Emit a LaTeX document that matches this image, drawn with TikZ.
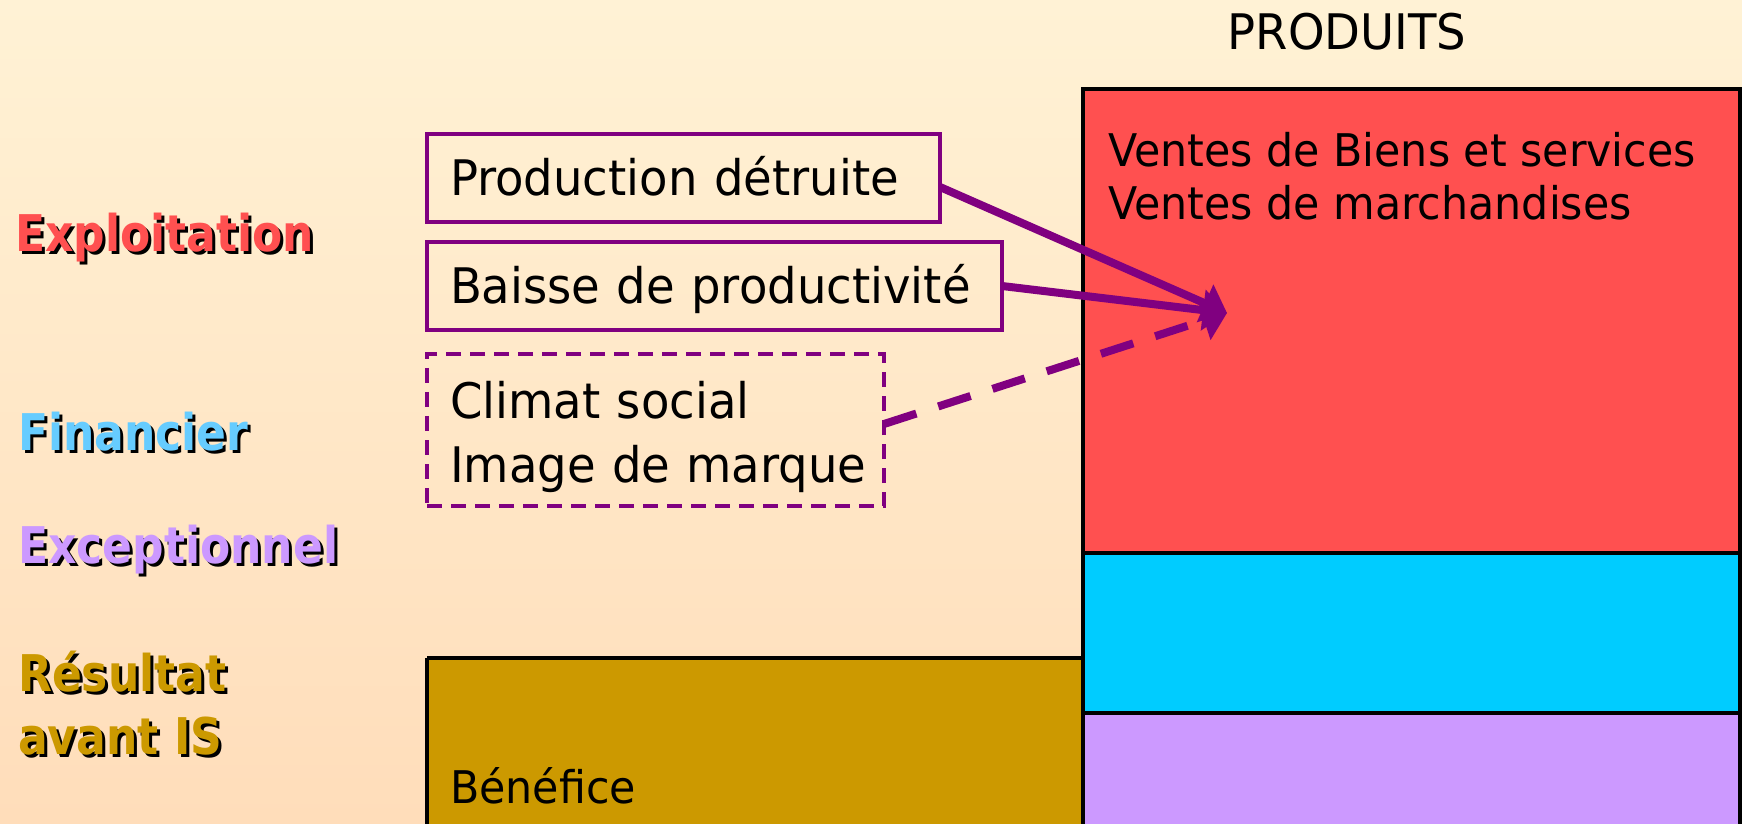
\documentclass[tikz,border=0pt]{standalone}
\usepackage{fontspec}
\setmainfont{DejaVu Sans}[FakeStretch=0.95, BoldFeatures={FakeStretch=0.87}]
\usetikzlibrary{arrows.meta}
\definecolor{bgtop}{HTML}{FFF2D5}
\definecolor{bgbot}{HTML}{FFDDBA}
\definecolor{exred}{HTML}{FF5050}
\definecolor{fincyan}{HTML}{00CCFF}
\definecolor{finlabel}{HTML}{66CCFF}
\definecolor{exclilac}{HTML}{CC99FF}
\definecolor{resgold}{HTML}{CC9900}
\definecolor{arrowpurple}{HTML}{800080}
\newcommand\fsBody{\fontsize{49}{64}\selectfont}
\newcommand\fsVentes{\fontsize{45}{53}\selectfont}
\newcommand\fsTitle{\fontsize{49}{58}\selectfont}
\newcommand\fsLabel{\bfseries\fontsize{50.6}{63}\selectfont}
\hbadness=10000 \hfuzz=1000pt
\begin{document}
\begin{tikzpicture}[x=1pt,y=1pt,
  block/.style={draw=black, line width=4pt},
  causebox/.style={draw=arrowpurple, line width=4pt, rectangle, outer sep=0pt,
    inner xsep=23pt, inner ysep=0pt, align=left, font=\fsBody,
    text height=36pt, text depth=0pt},
  dashbox/.style={causebox, dash pattern=on 15pt off 9pt},
  plain/.style={inner sep=0pt, anchor=base west},
  lbl/.style={inner sep=0pt, anchor=base west, font=\fsLabel},
  shadow/.style={lbl, text=black},
  cause/.style={draw=arrowpurple, line width=8pt, -{Triangle[length=24pt,width=40pt]}}
]
\useasboundingbox (0,0) rectangle (1742,823);
\shade[top color=bgtop, bottom color=bgbot] (0,0) rectangle (1742,823);

% result bars
\fill[resgold] (427,165) rectangle (1083,-20);
\draw[block] (427,165) -- (1083,165);
\draw[block] (427,165) -- (427,-20);
\draw[block, fill=exred] (1083,734) rectangle (1740,270);
\draw[block, fill=fincyan] (1083,270) rectangle (1740,110);
\draw[block, fill=exclilac] (1083,110) rectangle (1740,-20);

% title and texts
\node[inner sep=0pt, anchor=base, font=\fsTitle] (produits) at (1347,773) {PRODUITS};
\node[plain, font=\fsVentes] (ventes1) at (1108,656) {Ventes de Biens et services};
\node[plain, font=\fsVentes] (ventes2) at (1108,603) {Ventes de marchandises};
\node[plain, font=\fsVentes] (benefice) at (450,20) {Bénéfice};

% cause boxes
\node[causebox, minimum width=513pt, minimum height=88pt, text width=467pt] (prod) at (683.5,645) {\mbox{Production détruite}};
\node[causebox, minimum width=575pt, minimum height=88pt, text width=529pt] (baisse) at (714.5,537) {\mbox{Baisse de productivité}};
\node[dashbox, minimum width=457pt, minimum height=152pt, text width=411pt, text height=40pt, text depth=64pt] (climat) at (655.5,393) {\mbox{Climat social}\\\mbox{Image de marque}};

% arrows
\coordinate (tip) at (1227,510);
\draw[cause] ([yshift=-9pt]prod.east) -- (tip);
\draw[cause] (baisse.east) -- (tip);
\draw[cause, dash pattern=on 34pt off 23pt] ([yshift=6pt]climat.east) -- (tip);

% left labels with shadow
\node[shadow] (exploitS) at (18,568) {Exploitation};
\node[lbl, text=exred] (exploit) at (15,571) {Exploitation};
\node[shadow] (finS) at (21,370) {Financier};
\node[lbl, text=finlabel] (fin) at (18,373) {Financier};
\node[shadow] (excS) at (21,257) {Exceptionnel};
\node[lbl, text=exclilac] (exc) at (18,260) {Exceptionnel};
\node[shadow] (res1S) at (21,129) {Résultat};
\node[lbl, text=resgold] (res1) at (18,132) {Résultat};
\node[shadow] (res2S) at (21,66) {avant IS};
\node[lbl, text=resgold] (res2) at (18,69) {avant IS};
\end{tikzpicture}
\end{document}
